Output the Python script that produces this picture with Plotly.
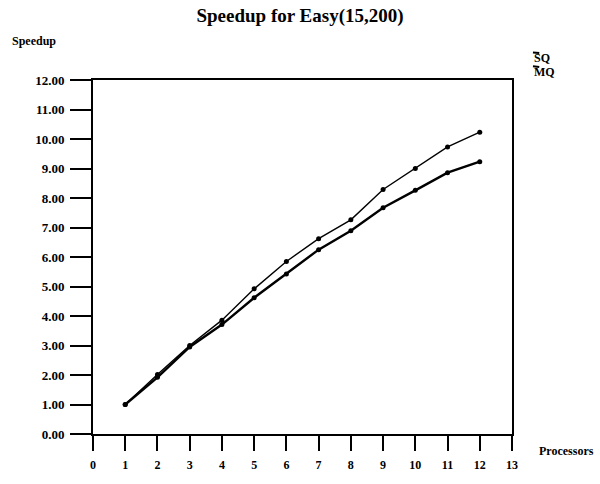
import plotly.graph_objects as go

# Speedup measurements for Easy(15,200)
processors = [1, 2, 3, 4, 5, 6, 7, 8, 9, 10, 11, 12]
sq_speedup = [1.00, 2.02, 3.00, 3.86, 4.92, 5.85, 6.62, 7.26, 8.29, 9.00, 9.73, 10.23]
mq_speedup = [1.00, 1.92, 2.95, 3.71, 4.62, 5.42, 6.25, 6.89, 7.67, 8.26, 8.86, 9.23]

x_ticks = list(range(0, 14))
y_ticks = list(range(0, 13))

SERIF = "Liberation Serif, Times New Roman, serif"

fig = go.Figure()
fig.add_trace(go.Scatter(
    x=processors, y=sq_speedup, name="SQ", mode="lines+markers",
    line=dict(color="black", width=1.4),
    marker=dict(color="black", size=5),
    showlegend=False,
))
fig.add_trace(go.Scatter(
    x=processors, y=mq_speedup, name="MQ", mode="lines+markers",
    line=dict(color="black", width=2.4),
    marker=dict(color="black", size=5),
    showlegend=False,
))

axis_common = dict(
    showline=True, linecolor="black", linewidth=1.8, mirror=True,
    showgrid=False, zeroline=False, ticks="outside",
    tickcolor="black", tickwidth=1.6,
)

fig.update_xaxes(range=[0, 13], tickvals=x_ticks, ticklen=15,
                 ticklabelstandoff=4,
                 tickfont=dict(family=SERIF, size=12, color="black", weight="bold"),
                 **axis_common)
fig.update_yaxes(range=[0, 12], tickvals=y_ticks, tickformat=".2f",
                 ticklen=21, ticklabelstandoff=3,
                 tickfont=dict(family=SERIF, size=13, color="black", weight="bold"),
                 **axis_common)

annotations = [
    dict(text="Speedup", x=-0.198, y=1.111, xanchor="left", yanchor="middle",
         font=dict(family=SERIF, size=12, color="black", weight="bold")),
    dict(text="Processors", x=1.060, y=-0.047, xanchor="left", yanchor="middle",
         font=dict(family=SERIF, size=12, color="black", weight="bold")),
    dict(text="SQ", x=1.048, y=1.061, xanchor="left", yanchor="middle",
         font=dict(family=SERIF, size=12, color="black", weight="bold")),
    dict(text="MQ", x=1.048, y=1.022, xanchor="left", yanchor="middle",
         font=dict(family=SERIF, size=12, color="black", weight="bold")),
]
for a in annotations:
    a.update(xref="paper", yref="paper", showarrow=False)

# short strokes over the first letter of each series entry
shapes = [
    dict(type="line", xref="paper", yref="paper",
         x0=1.050, x1=1.065, y0=1.078, y1=1.076,
         line=dict(color="black", width=2)),
    dict(type="line", xref="paper", yref="paper",
         x0=1.050, x1=1.065, y0=1.039, y1=1.037,
         line=dict(color="black", width=2)),
]

fig.update_layout(
    width=600, height=484,
    margin=dict(l=93, r=88, t=80, b=45),
    paper_bgcolor="white", plot_bgcolor="white",
    title=dict(text="Speedup for Easy(15,200)", x=0.5, xanchor="center",
               y=0.969, yanchor="middle",
               font=dict(family=SERIF, size=19, color="black", weight="bold")),
    annotations=annotations, shapes=shapes,
)

fig.write_html("out.html")
